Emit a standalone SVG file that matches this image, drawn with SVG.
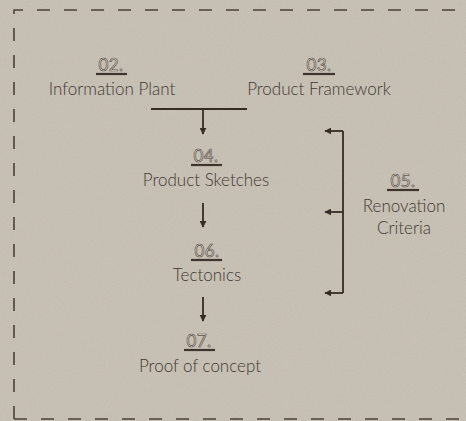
<svg xmlns="http://www.w3.org/2000/svg" width="466" height="421" viewBox="0 0 466 421">
  <defs>
    <style>
      .lbl { font-family: Lato, "Noto Sans", sans-serif; font-size: 17px; font-weight: 300; fill: #3f3832; text-anchor: middle; }
      .num { font-family: Lato, "Noto Sans", sans-serif; font-size: 17px; font-weight: 400; fill: #ddd7cc; stroke: #5e564e; stroke-width: 0.7; text-anchor: middle; letter-spacing: 0.4px; }
      .ul { stroke: #3d352e; stroke-width: 2.2; }
      .ln { stroke: #352c25; stroke-width: 1.8; fill: none; }
      .border { stroke: #4a423a; stroke-width: 1.6; fill: none; stroke-dasharray: 13 14; }
    </style>
    <marker id="ah" viewBox="0 0 10 10" refX="9" refY="5" markerWidth="7" markerHeight="7" markerUnits="userSpaceOnUse" orient="auto">
      <path d="M0,0 L10,5 L0,10 Z" fill="#352c25"/>
    </marker>
    <filter id="grain" x="0" y="0" width="100%" height="100%">
      <feTurbulence type="fractalNoise" baseFrequency="0.9" numOctaves="2" seed="3" result="n"/>
      <feColorMatrix type="matrix" values="0 0 0 0 0.8  0 0 0 0 0.77  0 0 0 0 0.72  0 0 0 0.4 -0.1"/>
    </filter>
  </defs>
  <rect x="0" y="0" width="466" height="421" fill="#c4bdb1"/>
  <rect x="0" y="0" width="466" height="421" filter="url(#grain)" opacity="0.6"/>

  <path class="border" d="M14,419 L14,10 L480,10 M14,419 L480,419"/>

  <g id="connectors">
    <line class="ln" x1="151" y1="109" x2="247" y2="109"/>
    <line class="ln" x1="203" y1="109" x2="203" y2="134" marker-end="url(#ah)"/>
    <line class="ln" x1="203" y1="203" x2="203" y2="227" marker-end="url(#ah)"/>
    <line class="ln" x1="203" y1="297" x2="203" y2="321" marker-end="url(#ah)"/>
    <polyline class="ln" points="343,131 343,293"/>
    <line class="ln" x1="343" y1="131" x2="325" y2="131" marker-end="url(#ah)"/>
    <line class="ln" x1="343" y1="212" x2="325" y2="212" marker-end="url(#ah)"/>
    <line class="ln" x1="343" y1="293" x2="325" y2="293" marker-end="url(#ah)"/>
  </g>

  <g id="n02">
    <text class="num" x="111" y="71">02.</text>
    <line class="ul" x1="96" y1="74" x2="127" y2="74"/>
    <text class="lbl" x="112" y="95">Information Plant</text>
  </g>
  <g id="n03">
    <text class="num" x="319" y="71">03.</text>
    <line class="ul" x1="303" y1="74" x2="335" y2="74"/>
    <text class="lbl" x="319" y="95">Product Framework</text>
  </g>
  <g id="n04">
    <text class="num" x="206" y="162">04.</text>
    <line class="ul" x1="191" y1="165" x2="222" y2="165"/>
    <text class="lbl" x="206" y="186">Product Sketches</text>
  </g>
  <g id="n05">
    <text class="num" x="403" y="187">05.</text>
    <line class="ul" x1="387" y1="190" x2="419" y2="190"/>
    <text class="lbl" x="404" y="212">Renovation</text>
    <text class="lbl" x="404" y="234">Criteria</text>
  </g>
  <g id="n06">
    <text class="num" x="207" y="257">06.</text>
    <line class="ul" x1="191" y1="260" x2="222" y2="260"/>
    <text class="lbl" x="207" y="281">Tectonics</text>
  </g>
  <g id="n07">
    <text class="num" x="199" y="347">07.</text>
    <line class="ul" x1="184" y1="350" x2="215" y2="350"/>
    <text class="lbl" x="200" y="372">Proof of concept</text>
  </g>
</svg>
